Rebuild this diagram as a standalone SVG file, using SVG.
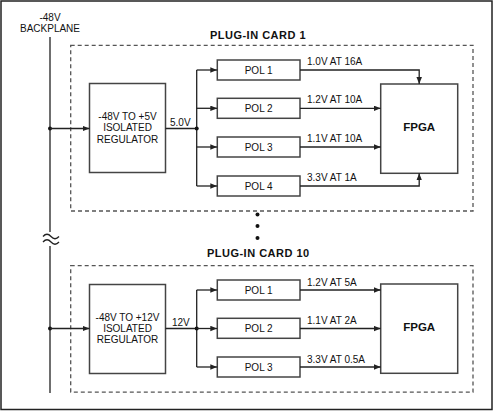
<svg xmlns="http://www.w3.org/2000/svg" width="494" height="412" viewBox="0 0 494 412">
<defs>
<marker id="ah" markerWidth="7" markerHeight="6" refX="7" refY="2.75" orient="auto" markerUnits="userSpaceOnUse">
<path d="M0,0 L7,2.75 L0,5.5 z" fill="#222"/>
</marker>
<style>
.t{font-family:"Liberation Sans",Arial,sans-serif;font-size:10px;fill:#111}
.c{text-anchor:middle}
.b{font-weight:bold}
.ti{font-family:"Liberation Sans",Arial,sans-serif;font-size:11px;font-weight:bold;fill:#111;text-anchor:middle;letter-spacing:0.5px}
.box{fill:#fff;stroke:#444;stroke-width:1.5}
.dash{fill:none;stroke:#555;stroke-width:1.3;stroke-dasharray:4 3}
.ln{fill:none;stroke:#222;stroke-width:1.3}
.arr{fill:none;stroke:#222;stroke-width:1.3;marker-end:url(#ah)}
.dot{fill:#111}
</style>
</defs>
<rect x="1" y="1" width="491" height="408.5" fill="#fff" stroke="#222" stroke-width="1.5"/>

<g id="backplane">
<text class="t c" x="50" y="20.5">-48V</text>
<text class="t c" x="50" y="32">BACKPLANE</text>
<path class="ln" d="M50,37 V232 M50,246 V393"/>
<path class="ln" d="M43,236.5 c2.7,-3 5.3,-3 8,0 s5.3,3 8,0 M43,242 c2.7,-3 5.3,-3 8,0 s5.3,3 8,0"/>
<circle class="dot" cx="50" cy="128.5" r="2"/>
<circle class="dot" cx="50" cy="328.5" r="2"/>
</g>

<g id="card1">
<rect class="dash" x="70.7" y="45.3" width="402.3" height="165.7"/>
<text class="ti" x="258" y="39">PLUG-IN CARD 1</text>
</g>
<g id="reg1">
<rect class="box" x="89.5" y="83.5" width="76" height="89"/>
<text class="t c" x="127.5" y="119.5">-48V TO +5V</text>
<text class="t c" x="127.5" y="131">ISOLATED</text>
<text class="t c" x="127.5" y="142.5">REGULATOR</text>
</g>
<g id="c1pol1"><rect class="box" x="217.3" y="60" width="82.7" height="20"/><text class="t c" x="258.7" y="73.5">POL 1</text></g>
<g id="c1pol2"><rect class="box" x="217.3" y="98.3" width="82.7" height="20"/><text class="t c" x="258.7" y="111.8">POL 2</text></g>
<g id="c1pol3"><rect class="box" x="217.3" y="137" width="82.7" height="20"/><text class="t c" x="258.7" y="150.5">POL 3</text></g>
<g id="c1pol4"><rect class="box" x="217.3" y="176" width="82.7" height="20"/><text class="t c" x="258.7" y="189.5">POL 4</text></g>
<g id="fpga1">
<rect class="box" x="380.7" y="84" width="77" height="89.3"/>
<text class="t c b" x="419.2" y="131" style="font-size:11.5px">FPGA</text>
</g>

<g id="dots">
<circle class="dot" cx="257.5" cy="214.5" r="2"/>
<circle class="dot" cx="257.5" cy="226" r="2"/>
<circle class="dot" cx="257.5" cy="238" r="2"/>
</g>

<g id="card10">
<rect class="dash" x="70.7" y="265.7" width="402.3" height="126.5"/>
<text class="ti" x="258.3" y="257.3">PLUG-IN CARD 10</text>
</g>
<g id="reg10">
<rect class="box" x="89.5" y="284.5" width="76" height="89"/>
<text class="t c" x="127.5" y="320.5">-48V TO +12V</text>
<text class="t c" x="127.5" y="331.8">ISOLATED</text>
<text class="t c" x="127.5" y="343">REGULATOR</text>
</g>
<g id="c10pol1"><rect class="box" x="217.3" y="280" width="82.7" height="20"/><text class="t c" x="258.7" y="293.5">POL 1</text></g>
<g id="c10pol2"><rect class="box" x="217.3" y="318.3" width="82.7" height="20"/><text class="t c" x="258.7" y="331.8">POL 2</text></g>
<g id="c10pol3"><rect class="box" x="217.3" y="357" width="82.7" height="20"/><text class="t c" x="258.7" y="370.5">POL 3</text></g>
<g id="fpga10">
<rect class="box" x="380.7" y="284" width="77" height="89.3"/>
<text class="t c b" x="419.2" y="331" style="font-size:11.5px">FPGA</text>
</g>

<g id="connectors">
<path class="arr" d="M50,128.5 H89.5"/>
<path class="ln" d="M165.5,128.5 H196.7 M196.7,70 V186"/>
<circle class="dot" cx="196.7" cy="128.5" r="2"/>
<text class="t" x="170" y="126">5.0V</text>
<path class="arr" d="M196.7,70 H217.3"/>
<path class="arr" d="M196.7,108.3 H217.3"/>
<path class="arr" d="M196.7,147 H217.3"/>
<path class="arr" d="M196.7,186 H217.3"/>
<path class="arr" d="M300,70 H419.2 V84"/>
<path class="arr" d="M300,108.3 H380.7"/>
<path class="arr" d="M300,147 H380.7"/>
<path class="arr" d="M300,186 H419.2 V173.3"/>
<text class="t" x="307" y="65">1.0V AT 16A</text>
<text class="t" x="307" y="103">1.2V AT 10A</text>
<text class="t" x="307" y="141.8">1.1V AT 10A</text>
<text class="t" x="307" y="180.5">3.3V AT 1A</text>

<path class="arr" d="M50,328.5 H89.5"/>
<path class="ln" d="M165.5,328.5 H196.7 M196.7,290 V367"/>
<circle class="dot" cx="196.7" cy="328.5" r="2"/>
<text class="t" x="172" y="325.5">12V</text>
<path class="arr" d="M196.7,290 H217.3"/>
<path class="arr" d="M196.7,328.5 H217.3"/>
<path class="arr" d="M196.7,367 H217.3"/>
<path class="arr" d="M300,290 H380.7"/>
<path class="arr" d="M300,328.5 H380.7"/>
<path class="arr" d="M300,367 H380.7"/>
<text class="t" x="307" y="285.5">1.2V AT 5A</text>
<text class="t" x="307" y="324">1.1V AT 2A</text>
<text class="t" x="307" y="362.5">3.3V AT 0.5A</text>
</g>
</svg>
